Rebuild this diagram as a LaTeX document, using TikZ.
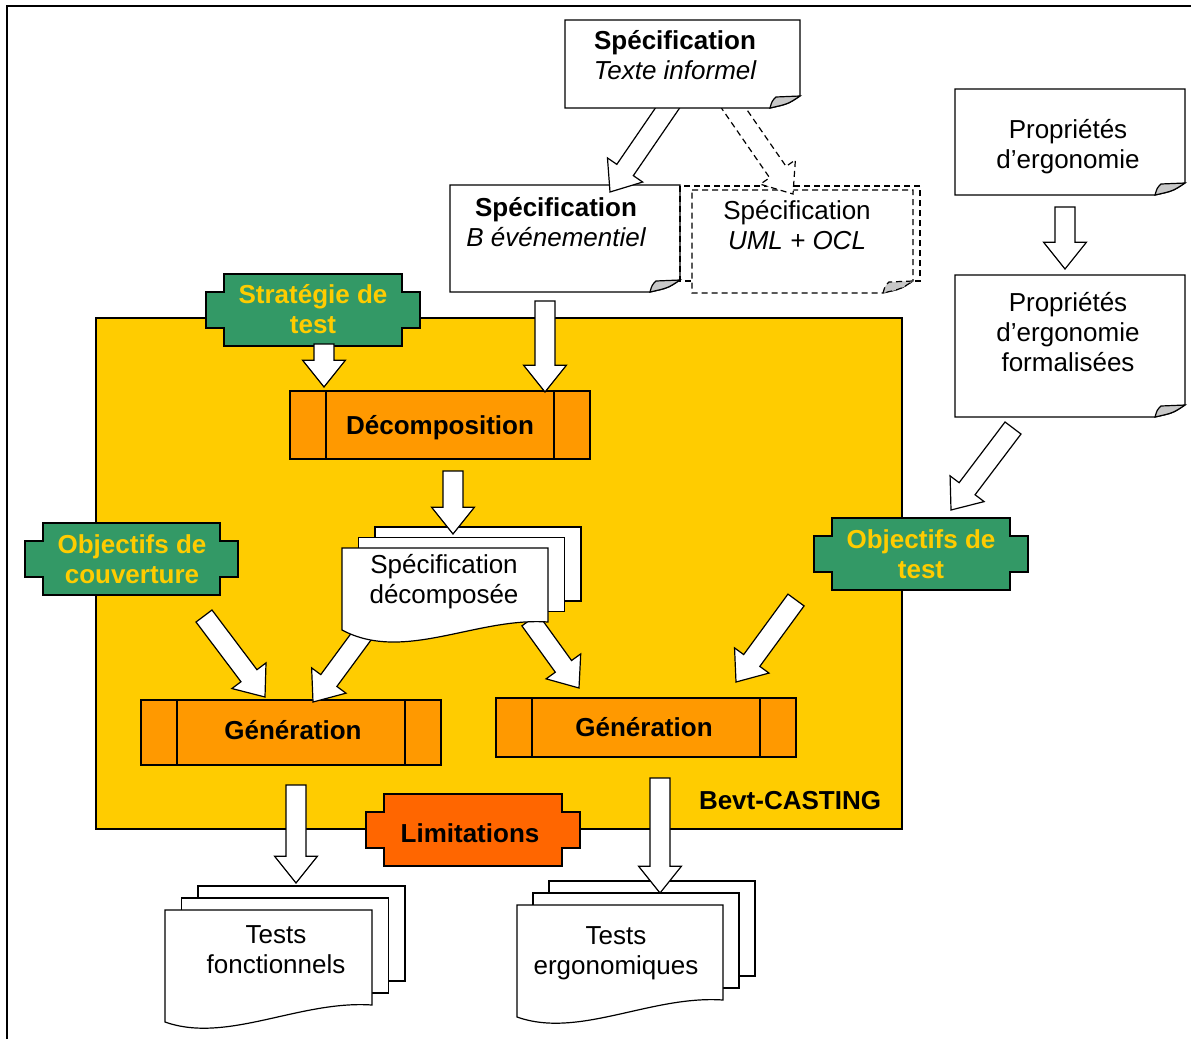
\documentclass[tikz,border=0pt]{standalone}
\usepackage{fontspec}
\setmainfont{Liberation Sans}
\usetikzlibrary{calc}
\definecolor{castyellow}{HTML}{FFCC00}
\definecolor{procorange}{HTML}{FF9900}
\definecolor{taggreen}{HTML}{339966}
\definecolor{limorange}{HTML}{FF6600}
\definecolor{foldgray}{HTML}{C8C8C8}

% sheet of paper with a turned-up corner: L T R B
\newcommand\notebox[5][]{%
  \draw[fill=white,#1] (#2,#3) -- (#4,#3) -- (#4,{#5-12})
    .. controls ({#4-12},{#5-4}) .. ({#4-30},#5) -- (#2,#5) -- cycle;
  \draw[fill=foldgray,#1] ({#4-30},#5) .. controls ({#4-28},{#5-7}) .. ({#4-24},{#5-11})
    -- (#4,{#5-12}) .. controls ({#4-12},{#5-4}) .. ({#4-30},#5) -- cycle;}

% process step with side bars: L T R B
\newcommand\procbox[4]{%
  \draw[fill=procorange] (#1,#2) rectangle (#3,#4);
  \draw ({#1+36},#2) -- ({#1+36},#4) ({#3-36},#2) -- ({#3-36},#4);}

% notched plate: L T R B colour
\newcommand\tagbox[5]{%
  \draw[fill=#5] ({#1+18},#2) -- ({#3-18},#2) -- ({#3-18},{#2+18}) -- (#3,{#2+18})
    -- (#3,{#4-18}) -- ({#3-18},{#4-18}) -- ({#3-18},#4) -- ({#1+18},#4)
    -- ({#1+18},{#4-18}) -- (#1,{#4-18}) -- (#1,{#2+18}) -- ({#1+18},{#2+18}) -- cycle;}

% stack of three documents: L T R Bleft Bright dx dy dip
\newcommand\docstack[8]{%
  \draw[fill=white] ({#1+2*#6},{#2-2*#7}) rectangle ({#3+2*#6},{#5-2*#7});
  \draw[fill=white] ({#1+#6},{#2-#7}) rectangle ({#3+#6},{#5-#7});
  \draw[fill=white] (#1,#2) -- (#3,#2) -- (#3,#5)
    .. controls ({#1+0.65*(#3-#1)},{#5-5}) and ({#1+0.3*(#3-#1)},{#4+#8}) .. (#1,#4) -- cycle;}

% hollow block arrow from one named coordinate to another
\newcommand\blockarrow[3][]{%
  \coordinate (hb) at ($(#3)!20pt!(#2)$);
  \draw[fill=white,#1] ($(#2)!7.5pt!90:(#3)$) -- ($(hb)!7.5pt!90:(#3)$)
    -- ($(hb)!16pt!90:(#3)$) -- (#3) -- ($(hb)!16pt!-90:(#3)$)
    -- ($(hb)!7.5pt!-90:(#3)$) -- ($(#2)!7.5pt!-90:(#3)$) -- cycle;}

\begin{document}
\begin{tikzpicture}[x=0.75pt,y=-0.75pt,line width=0.9pt,line join=miter,
  txt/.style={inner sep=0pt,align=center,font=\fontsize{19.5}{22.5}\selectfont},
  boldtxt/.style={txt,font=\fontsize{19.5}{22.5}\selectfont\bfseries},
  tagtxt/.style={boldtxt,text=castyellow},
  dashline/.style={dash pattern=on 4.5pt off 3pt}]

\useasboundingbox (0,0) rectangle (1191,1039);

% outer frame
\draw[line width=1.1pt] (7,1039) -- (7,6) -- (1191,6);

% tool boundary
\draw[fill=castyellow] (96,318) rectangle (902,829);
\node[boldtxt] (casting) at (790,801) {Bevt-CASTING};

% specifications
\notebox{450}{185}{680}{292}
\node[txt] (specB) at (556,222) {{\bfseries Spécification}\\{\itshape B événementiel}};
\draw[dashline,line width=1.1pt] (680,186) rectangle (920,281);
\notebox[dashline]{692}{190}{913}{293}
\node[txt] (specUML) at (797,225) {Spécification\\{\itshape UML + OCL}};

\coordinate (a1s) at (673,100);
\coordinate (a1e) at (610,192);
\blockarrow{a1s}{a1e}
\coordinate (a2s) at (728,100);
\coordinate (a2e) at (793,194);
\blockarrow[dashline]{a2s}{a2e}

\notebox{565}{20}{800}{108}
\node[txt] (specinf) at (675,55.5) {{\bfseries Spécification}\\{\itshape Texte informel}};

% ergonomic properties
\notebox{955}{89}{1185}{195}
\node[txt] (prop) at (1068,147) {Propriétés\\d’ergonomie};
\notebox{955}{275}{1185}{417}
\node[txt] (propf) at (1068,332) {Propriétés\\d’ergonomie\\formalisées};
\coordinate (a5s) at (1065,207);
\coordinate (a5e) at (1065,269);
\blockarrow{a5s}{a5e}

% decomposition step
\procbox{290}{391}{590}{459}
\node[boldtxt] (decomp) at (440,428) {Décomposition};
\tagbox{206}{274}{420}{346}{taggreen}
\node[tagtxt] (strat) at (313,309) {Stratégie de\\test};
\coordinate (a3s) at (545,301);
\coordinate (a3e) at (545,392);
\blockarrow{a3s}{a3e}
\coordinate (a4s) at (324,344);
\coordinate (a4e) at (324,387);
\blockarrow{a4s}{a4e}

% generation steps
\procbox{141}{700}{441}{765}
\node[boldtxt] (genL) at (293,730) {Génération};
\procbox{496}{698}{796}{757}
\node[boldtxt] (genR) at (644,727) {Génération};

\coordinate (a9s) at (366,630);
\coordinate (a9e) at (313,702);
\blockarrow{a9s}{a9e}
\coordinate (a10s) at (530,620);
\coordinate (a10e) at (579,688);
\blockarrow{a10s}{a10e}

% decomposed specification
\docstack{342}{548}{548}{630}{622}{16.5}{10.5}{33}
\node[txt] (specdec) at (444,582) {Spécification\\décomposée};
\coordinate (a7s) at (453,471);
\coordinate (a7e) at (453,534);
\blockarrow{a7s}{a7e}

% objectives
\tagbox{25}{523}{238}{595}{taggreen}
\node[tagtxt] (couv) at (132,559) {Objectifs de\\couverture};
\coordinate (a8s) at (204,616);
\coordinate (a8e) at (265,697);
\blockarrow{a8s}{a8e}

\tagbox{814}{518}{1028}{590}{taggreen}
\node[tagtxt] (objtest) at (921,554) {Objectifs de\\test};
\coordinate (a6s) at (1013,428);
\coordinate (a6e) at (951,510);
\blockarrow{a6s}{a6e}
\coordinate (a11s) at (796,600);
\coordinate (a11e) at (736,682);
\blockarrow{a11s}{a11e}

% limitations
\tagbox{366}{794}{580}{866}{limorange}
\node[boldtxt] (limit) at (470,833) {Limitations};

% generated tests
\docstack{165}{910}{372}{1022}{1005}{16.5}{12}{22}
\node[txt] (testsF) at (276,950) {Tests\\fonctionnels};
\docstack{517}{905}{723}{1017}{1000}{16}{12}{22}
\node[txt] (testsE) at (616,953) {Tests\\ergonomiques};

\coordinate (a12s) at (296,785);
\coordinate (a12e) at (296,883);
\blockarrow{a12s}{a12e}
\coordinate (a13s) at (660,778);
\coordinate (a13e) at (660,893);
\blockarrow{a13s}{a13e}

\end{tikzpicture}
\end{document}
